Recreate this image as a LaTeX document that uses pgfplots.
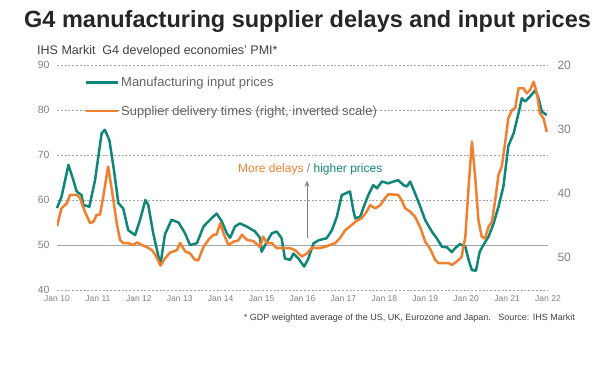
\documentclass[border=0pt]{standalone}
\usepackage{pgfplots}
\pgfplotsset{compat=1.18}
\usepackage{fontspec}
\setmainfont{Liberation Sans}
\usetikzlibrary{arrows.meta}
\definecolor{myteal}{RGB}{16,134,120}
\definecolor{myorange}{RGB}{240,128,48}
\definecolor{ticktext}{RGB}{128,128,128}
\definecolor{legtext}{RGB}{100,100,100}
\definecolor{gridc}{RGB}{165,165,165}
\begin{document}
\begin{tikzpicture}
\path[use as bounding box] (0,0) rectangle (616pt,383pt);
\begin{axis}[
  at={(57pt,93pt)}, anchor=south west, scale only axis,
  width=491pt, height=225pt,
  xmin=2010, xmax=2022, ymin=40, ymax=90,
  axis line style={draw=none}, major tick length=0pt,
  xtick={2010,2011,...,2022},
  xticklabels={Jan 10,Jan 11,Jan 12,Jan 13,Jan 14,Jan 15,Jan 16,Jan 17,Jan 18,Jan 19,Jan 20,Jan 21,Jan 22},
  ytick={40,60,70,80,90},
  extra y ticks={50},
  extra y tick style={ymajorgrids=true, major grid style={solid, draw=gridc, line width=0.9pt}},
  ymajorgrids,
  major grid style={draw=gridc, line width=0.6pt, dash pattern=on 2pt off 1.8pt},
  /pgf/number format/assume math mode=true,
  x tick label style={font=\fontsize{8.5}{8.5}\selectfont, text=ticktext, yshift=-2pt},
  y tick label style={font=\fontsize{10.5}{10.5}\selectfont, text=ticktext, xshift=-4pt},
  clip=false,
  legend style={at={(0.057,0.955)}, anchor=north west, draw=none, fill=none,
    font=\fontsize{13}{13}\selectfont, text=legtext, row sep=15pt,
    inner sep=0pt, nodes={inner sep=1.5pt}},
  legend cell align=left,
  legend image code/.code={\draw[#1, line width=2.5pt] (0pt,0pt) -- (32pt,0pt);},
]
\addplot[myteal, line width=2.5pt, line join=round] coordinates {
(2010.00,58.2)(2010.11,60.7)(2010.28,67.8)(2010.40,64.4)(2010.48,61.9)(2010.60,61.1)(2010.64,58.9)(2010.79,58.5)(2010.93,64.4)(2011.09,74.8)(2011.17,75.6)(2011.28,73.3)(2011.38,67.4)(2011.50,59.3)(2011.62,58.1)(2011.74,53.3)(2011.91,52.2)(2012.03,55.6)(2012.16,60.0)(2012.23,58.9)(2012.35,52.7)(2012.48,47.4)(2012.53,45.8)(2012.64,52.4)(2012.80,55.6)(2012.97,55.0)(2013.13,52.6)(2013.25,50.0)(2013.42,50.4)(2013.58,54.1)(2013.74,55.6)(2013.90,57.0)(2014.03,55.2)(2014.15,52.6)(2014.23,51.6)(2014.35,54.1)(2014.47,54.8)(2014.64,54.1)(2014.84,53.0)(2014.96,51.6)(2015.00,48.5)(2015.13,50.7)(2015.25,52.6)(2015.37,53.0)(2015.49,51.5)(2015.57,47.0)(2015.70,46.7)(2015.78,48.1)(2015.90,47.0)(2016.04,45.2)(2016.14,46.9)(2016.27,50.4)(2016.41,51.1)(2016.59,51.5)(2016.72,53.3)(2016.84,56.3)(2016.96,61.1)(2017.16,61.9)(2017.24,57.8)(2017.29,55.9)(2017.41,56.3)(2017.53,59.3)(2017.61,61.1)(2017.73,63.3)(2017.82,62.6)(2017.94,64.1)(2018.10,63.7)(2018.22,64.1)(2018.34,64.4)(2018.47,63.3)(2018.55,63.0)(2018.63,64.1)(2018.75,61.5)(2018.88,58.5)(2019.00,55.5)(2019.16,53.0)(2019.28,51.5)(2019.41,49.6)(2019.53,49.5)(2019.65,48.4)(2019.73,49.3)(2019.85,50.2)(2019.98,49.6)(2020.06,46.7)(2020.14,44.4)(2020.24,44.3)(2020.33,48.5)(2020.42,50.0)(2020.55,51.9)(2020.67,54.8)(2020.79,58.5)(2020.91,63.0)(2021.03,72.0)(2021.16,74.8)(2021.28,79.3)(2021.36,82.6)(2021.44,81.9)(2021.56,83.0)(2021.69,84.4)(2021.77,82.6)(2021.85,79.6)(2021.97,78.9)
};
\addlegendentry{Manufacturing input prices}
\addlegendimage{myorange}
\addlegendentry{Supplier delivery times (right, inverted scale)}
\draw[ticktext, line width=1pt, -{Stealth[length=6pt,width=5pt]}] (axis cs:2016.11,51.6) -- (axis cs:2016.11,64.3);
\node[anchor=base, inner sep=0pt, font=\fontsize{12}{12}\selectfont] at (axis cs:2016.19,66.0)
  {\textcolor{myorange}{More delays} \textcolor{ticktext}{/} \textcolor{myteal}{higher prices}};
\end{axis}
\begin{axis}[
  at={(57pt,93pt)}, anchor=south west, scale only axis,
  width=491pt, height=225pt,
  xmin=2010, xmax=2022, ymin=20, ymax=55, y dir=reverse,
  axis x line=none, axis y line*=right,
  axis line style={draw=none}, major tick length=0pt,
  ytick={20,30,40,50},
  /pgf/number format/assume math mode=true,
  y tick label style={font=\fontsize{12}{12}\selectfont, text=ticktext, xshift=6pt},
]
\addplot[myorange, line width=2.5pt, line join=round] coordinates {
(2010.00,45.1)(2010.11,42.3)(2010.24,41.5)(2010.32,40.2)(2010.48,40.2)(2010.56,40.7)(2010.68,42.8)(2010.81,44.6)(2010.89,44.4)(2010.97,43.3)(2011.05,43.3)(2011.13,40.5)(2011.25,35.8)(2011.34,39.4)(2011.46,44.6)(2011.54,47.2)(2011.62,47.7)(2011.74,47.7)(2011.87,48.0)(2011.95,47.6)(2012.07,48.0)(2012.19,48.3)(2012.32,48.8)(2012.40,49.5)(2012.53,51.2)(2012.64,50.1)(2012.76,49.2)(2012.93,48.8)(2013.01,47.7)(2013.13,49.0)(2013.25,49.3)(2013.37,50.3)(2013.45,50.4)(2013.58,48.3)(2013.70,47.2)(2013.82,46.4)(2013.90,46.4)(2013.99,44.6)(2014.07,46.2)(2014.19,48.0)(2014.31,47.5)(2014.43,47.3)(2014.52,46.4)(2014.64,47.2)(2014.80,47.4)(2014.96,48.3)(2015.04,46.7)(2015.13,47.7)(2015.25,47.7)(2015.37,48.5)(2015.70,48.5)(2015.82,48.8)(2015.98,49.8)(2016.11,49.3)(2016.23,48.4)(2016.39,48.5)(2016.55,48.3)(2016.67,48.0)(2016.80,47.7)(2016.92,46.9)(2017.04,45.7)(2017.16,45.1)(2017.29,44.4)(2017.45,43.8)(2017.57,42.8)(2017.65,41.8)(2017.78,42.3)(2017.90,41.8)(2018.02,40.7)(2018.10,40.1)(2018.34,40.2)(2018.42,41.0)(2018.51,42.3)(2018.63,42.8)(2018.75,43.6)(2018.88,45.3)(2019.00,47.5)(2019.12,48.6)(2019.24,50.3)(2019.32,50.8)(2019.57,50.8)(2019.65,51.1)(2019.77,50.6)(2019.89,49.8)(2019.98,46.7)(2020.06,38.9)(2020.14,31.9)(2020.22,37.4)(2020.30,44.1)(2020.38,46.7)(2020.46,47.0)(2020.55,45.1)(2020.63,44.4)(2020.71,41.0)(2020.79,37.1)(2020.87,35.8)(2020.95,32.2)(2021.03,28.3)(2021.12,27.0)(2021.20,26.7)(2021.28,23.6)(2021.40,23.6)(2021.48,24.4)(2021.56,23.9)(2021.65,22.6)(2021.73,24.4)(2021.80,27.5)(2021.89,28.3)(2021.97,30.4)
};
\end{axis}
\node[anchor=base west, inner sep=0pt, font=\bfseries\fontsize{23.5}{23.5}\selectfont, text={rgb,255:red,38;green,38;blue,38}] at (24pt,355pt) {G4 manufacturing supplier delays and input prices};
\node[anchor=base west, inner sep=0pt, font=\fontsize{12.5}{12.5}\selectfont, text={rgb,255:red,64;green,64;blue,64}] at (37pt,328pt) {IHS Markit\ \ G4 developed economies' PMI*};
\node[anchor=base east, inner sep=0pt, font=\fontsize{9}{9}\selectfont, text={rgb,255:red,64;green,64;blue,64}] at (575pt,62pt) {* GDP weighted average of the US, UK, Eurozone and Japan.\ \ \ Source: IHS Markit};
\end{tikzpicture}
\end{document}
